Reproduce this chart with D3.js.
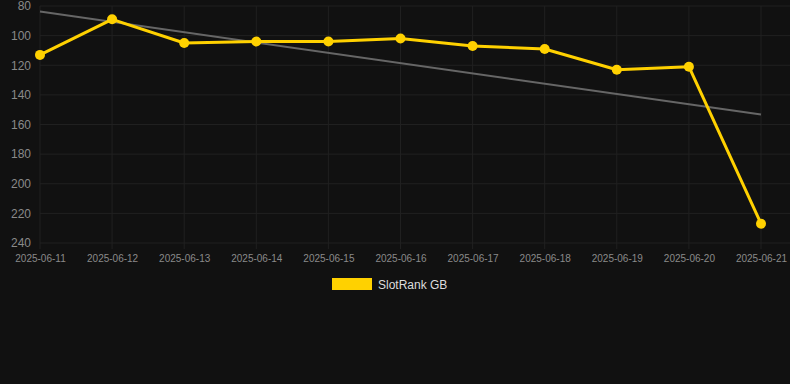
<!DOCTYPE html>
<html>
<head>
<meta charset="utf-8">
<script src="https://cdn.jsdelivr.net/npm/d3@7"></script>
<style>
  body { margin: 0; background: #111111; }
  svg { display: block; font-family: "Liberation Sans", Arial, sans-serif; }
</style>
</head>
<body>
<svg id="chart" width="790" height="384"></svg>
<script>
// data
const dates = ["2025-06-11", "2025-06-12", "2025-06-13", "2025-06-14", "2025-06-15",
               "2025-06-16", "2025-06-17", "2025-06-18", "2025-06-19", "2025-06-20", "2025-06-21"];
const ranks = [113, 89, 105, 104, 104, 102, 107, 109, 123, 121, 227];
const yTicks = [80, 100, 120, 140, 160, 180, 200, 220, 240];
const seriesName = "SlotRank GB";

const svg = d3.select("#chart");
const W = 790, H = 384;
const m = {top: 6, right: 29, bottom: 141, left: 40};

const x = d3.scalePoint().domain(dates).range([m.left, W - m.right]);
const y = d3.scaleLinear().domain([80, 240]).range([m.top, H - m.bottom]);

// grid
const grid = svg.append("g");
grid.selectAll(".hg").data(yTicks).join("line")
    .attr("x1", m.left).attr("x2", W)
    .attr("y1", d => y(d)).attr("y2", d => y(d))
    .attr("stroke", "#202020").attr("stroke-width", 1);
grid.selectAll(".vg").data(dates).join("line")
    .attr("x1", d => x(d)).attr("x2", d => x(d))
    .attr("y1", m.top).attr("y2", y(240) + 6)
    .attr("stroke", "#202020").attr("stroke-width", 1);

// axes (labels only)
const yAxis = svg.append("g")
    .attr("transform", `translate(${m.left - 9},0)`)
    .call(d3.axisLeft(y).tickValues(yTicks).tickSize(0).tickPadding(0));
yAxis.select(".domain").remove();
yAxis.selectAll("text").attr("fill", "#8a8a8a").style("font-size", "12px");

const xAxis = svg.append("g")
    .attr("transform", `translate(0,${y(240) + 12})`)
    .call(d3.axisBottom(x).tickSize(0).tickPadding(0));
xAxis.select(".domain").remove();
xAxis.selectAll("text").attr("fill", "#8a8a8a").style("font-size", "10px");

// trend line (least squares over the series)
const n = ranks.length;
const mx = d3.mean(ranks, (d, i) => i), my = d3.mean(ranks);
const slope = d3.sum(ranks, (d, i) => (i - mx) * (d - my)) / d3.sum(ranks, (d, i) => (i - mx) ** 2);
const trend = [0, n - 1].map(i => [dates[i], my + slope * (i - mx)]);
svg.append("path")
    .datum(trend)
    .attr("d", d3.line().x(d => x(d[0])).y(d => y(d[1])))
    .attr("fill", "none").attr("stroke", "#666").attr("stroke-width", 2);

// series
const gold = "#ffd100";
svg.append("path")
    .datum(ranks)
    .attr("d", d3.line().x((d, i) => x(dates[i])).y(d => y(d)))
    .attr("fill", "none").attr("stroke", gold).attr("stroke-width", 3)
    .attr("stroke-linejoin", "round");
svg.selectAll(".pt").data(ranks).join("circle")
    .attr("cx", (d, i) => x(dates[i])).attr("cy", d => y(d))
    .attr("r", 5).attr("fill", gold);

// legend
const lg = svg.append("g").attr("transform", "translate(332,278)");
lg.append("rect").attr("width", 40).attr("height", 12).attr("fill", gold);
lg.append("text").attr("x", 46).attr("y", 10.5)
    .attr("fill", "#dddddd").style("font-size", "12px").text(seriesName);
</script>
</body>
</html>
